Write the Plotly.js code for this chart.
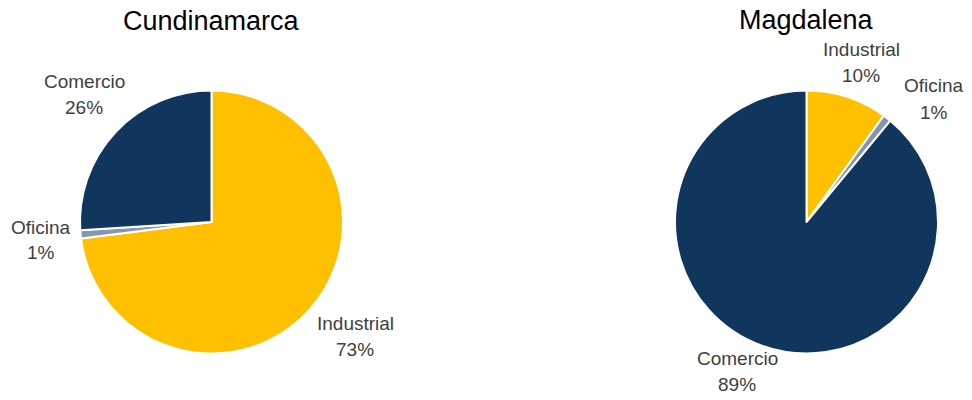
<!DOCTYPE html>
<html>
<head>
<meta charset="utf-8">
<script src="https://cdn.plot.ly/plotly-3.0.1.min.js"></script>
<style>html,body{margin:0;padding:0;background:#fff}#chart{width:972px;height:400px}</style>
</head>
<body>
<div id="chart"></div>
<script>
var categories = ["Industrial", "Oficina", "Comercio"];
var cundinamarcaValues = [73, 1, 26];
var magdalenaValues = [10, 1, 89];
var regionNames = ["Cundinamarca", "Magdalena"];
var colors = ["#FFC000", "#8496B0", "#10365E"];

// label placement (pixels) per region / category: [centerX, centerY]
var labelPos = [
  {Industrial: [355, 336], Oficina: [41, 240], Comercio: [84, 94]},
  {Industrial: [861, 62], Oficina: [934, 99], Comercio: [737, 371]}
];
var W = 972, H = 400;
var series = [cundinamarcaValues, magdalenaValues];
var domains = [
  {x: [80 / W, 343 / W], y: [46 / H, 310 / H]},
  {x: [675 / W, 938 / W], y: [46 / H, 310 / H]}
];
var titlePos = [[211, 21], [806, 20]];
var FONT = 'Liberation Sans, Arial, sans-serif';

var data = series.map(function (vals, i) {
  return {
    type: 'pie',
    labels: categories,
    values: vals,
    sort: false,
    direction: 'clockwise',
    rotation: 0,
    textinfo: 'none',
    hoverinfo: 'label+percent',
    marker: {colors: colors, line: {color: '#ffffff', width: 2}},
    domain: domains[i],
    showlegend: false
  };
});

function ann(text, px, py, size, color) {
  return {
    text: text, xref: 'paper', yref: 'paper',
    x: px / W, y: 1 - py / H,
    xanchor: 'center', yanchor: 'middle', showarrow: false,
    font: {family: FONT, size: size, color: color}
  };
}

var annotations = [];
series.forEach(function (vals, i) {
  var total = vals.reduce(function (a, b) { return a + b; }, 0);
  annotations.push(ann(regionNames[i], titlePos[i][0], titlePos[i][1], 27, '#000'));
  categories.forEach(function (c, j) {
    var p = labelPos[i][c];
    annotations.push(ann(c, p[0], p[1] - 13, 19, '#404040'));
    annotations.push(ann(Math.round(vals[j] / total * 100) + '%', p[0], p[1] + 13, 19, '#404040'));
  });
});

var layout = {
  width: W, height: H,
  margin: {l: 0, r: 0, t: 0, b: 0},
  paper_bgcolor: '#fff',
  annotations: annotations
};
Plotly.newPlot('chart', data, layout, {displayModeBar: false, staticPlot: true});
</script>
</body>
</html>
